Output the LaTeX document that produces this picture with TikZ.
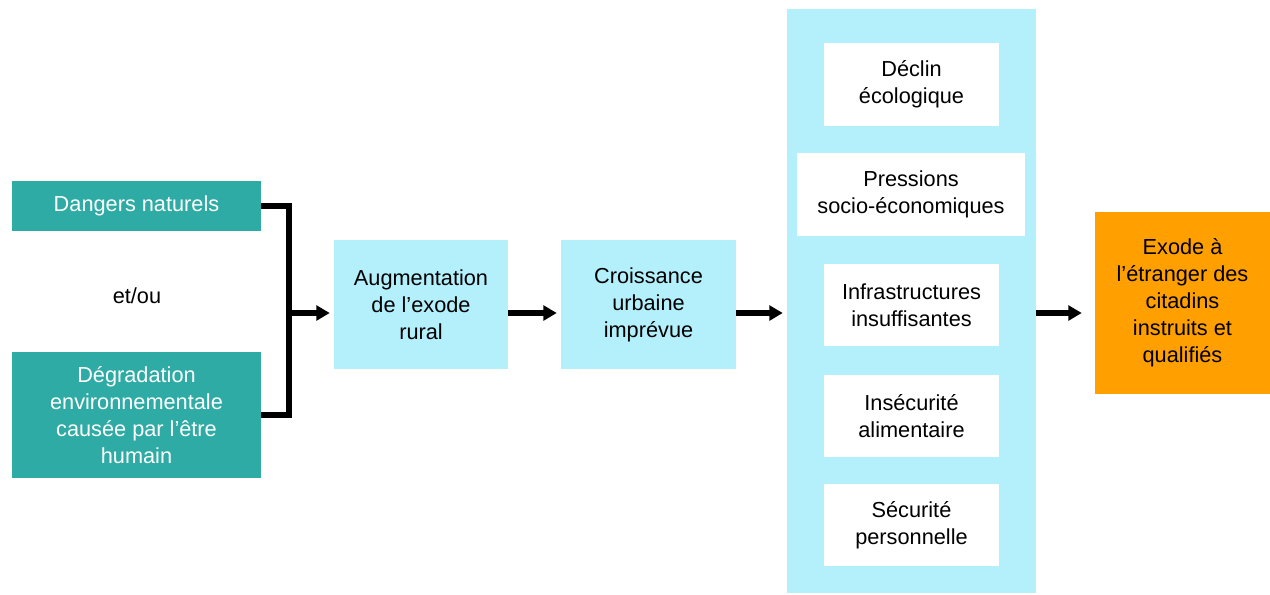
\documentclass[tikz,border=0pt]{standalone}
\usepackage{fontspec}
\setmainfont{Liberation Sans}
\usetikzlibrary{arrows.meta}
\definecolor{teal1}{HTML}{2EABA4}
\definecolor{lblue}{HTML}{B3F0FC}
\definecolor{orng}{HTML}{FFA000}
\tikzset{
  box/.style={inner sep=0pt, align=center, font=\fontsize{16.3}{20.3}\selectfont},
  tealbox/.style={box, fill=teal1, text=white},
  bluebox/.style={box, fill=lblue, text=black},
  whitebox/.style={box, fill=white, text=black},
  orangebox/.style={box, fill=orng, text=black},
  conn/.style={line width=4.5pt},
  arr/.style={line width=4.5pt, -{Triangle[length=10pt,width=11pt]}},
}
\begin{document}
\begin{tikzpicture}[x=0.75pt,y=-0.75pt]
\useasboundingbox (0,0) rectangle (1270,594);
% left teal boxes
\node[tealbox, minimum width=249*0.75pt, minimum height=50*0.75pt] (dan) at (136.5,206) {Dangers naturels};
\node[box] (etou) at (137,296) {et/ou};
\node[tealbox, minimum width=249*0.75pt, minimum height=126*0.75pt] (deg) at (136.5,415) {Dégradation\\environnementale\\causée par l’être\\humain};
% middle boxes
\node[bluebox, minimum width=174*0.75pt, minimum height=129*0.75pt] (aug) at (421,304.5) {Augmentation\\de l’exode\\rural};
\node[bluebox, minimum width=175*0.75pt, minimum height=129*0.75pt] (cro) at (648.5,304.5) {Croissance\\urbaine\\imprévue};
% big container
\node[fill=lblue, minimum width=249*0.75pt, minimum height=584*0.75pt, inner sep=0pt] (big) at (911.5,301) {};
\node[whitebox, minimum width=175*0.75pt, minimum height=83*0.75pt] (dec) at (911.5,84.5) {Déclin\\écologique};
\node[whitebox, minimum width=228*0.75pt, minimum height=83*0.75pt] (pre) at (911,194.5) {Pressions\\socio-économiques};
\node[whitebox, minimum width=175*0.75pt, minimum height=82*0.75pt] (inf) at (911.5,305) {Infrastructures\\insuffisantes};
\node[whitebox, minimum width=175*0.75pt, minimum height=82*0.75pt] (ins) at (911.5,416) {Insécurité\\alimentaire};
\node[whitebox, minimum width=175*0.75pt, minimum height=82*0.75pt] (sec) at (911.5,525) {Sécurité\\personnelle};
% orange
\node[orangebox, minimum width=175*0.75pt, minimum height=182*0.75pt] (exo) at (1182.5,303) {Exode à\\l’étranger des\\citadins\\instruits et\\qualifiés};
% connectors
\coordinate (j) at (289,313);
\draw[conn] (dan.east) -- (dan.east -| j) -- (deg.east -| j) -- (deg.east);
\draw[arr] (j) -- ([xshift=-4*0.75pt]aug.west |- j);
\draw[arr] (aug.east |- j) -- ([xshift=-4*0.75pt]cro.west |- j);
\draw[arr] (cro.east |- j) -- ([xshift=-4*0.75pt]big.west |- j);
\draw[arr] (big.east |- j) -- ([xshift=-13*0.75pt]exo.west |- j);
\end{tikzpicture}
\end{document}
